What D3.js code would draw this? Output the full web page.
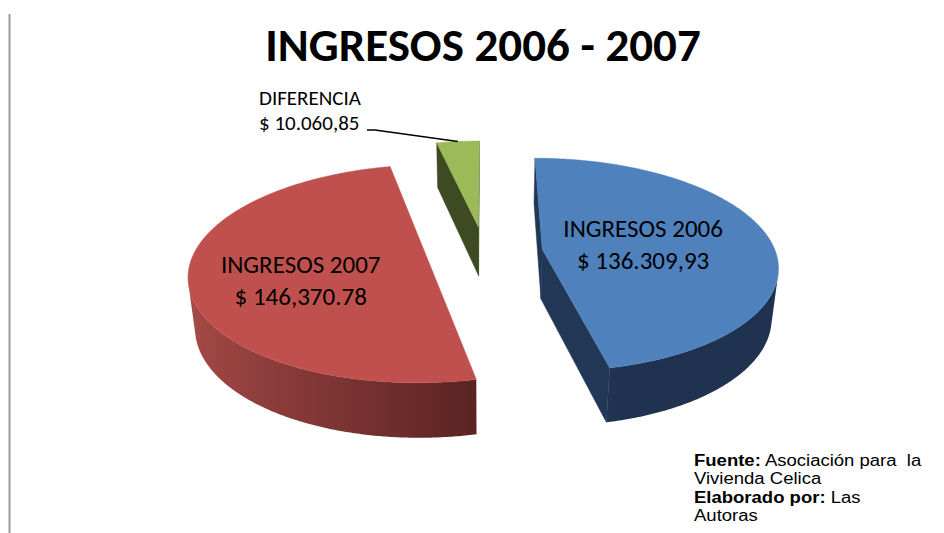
<!DOCTYPE html>
<html>
<head>
<meta charset="utf-8">
<script src="https://cdn.jsdelivr.net/npm/d3@7"></script>
<style>
  body { margin: 0; background: #fff; }
  svg { display: block; }
  text { white-space: pre; }
</style>
</head>
<body>
<script>
// chart data
var title = "INGRESOS 2006 - 2007";
var categories = ["INGRESOS 2006", "INGRESOS 2007", "DIFERENCIA"];
var values = [136309.93, 146370.78, 10060.85];
var valueLabels = ["$ 136.309,93", "$ 146,370.78", "$ 10.060,85"];
var sourceBold = ["Fuente:", "", "Elaborado por:", ""];
var sourceText = [" Asociación para  la", "Vivienda Celica", " Las", "Autoras"];

// slice colours: top face, side (light end), side (dark end), cut wall
var topColors = ["#4f81bd", "#c0504d", "#9bbb59"];
var sideLight = ["#3a5a86", "#a94c49", "#5d7330"];
var sideDark = ["#1f3350", "#582221", "#3d4b22"];
var wallColors = ["#213755", "#6e2c2a", "#3e4b22"];

var width = 944;
var height = 533;

// 3d view settings (pie radius = 1)
var PHI = 30 * Math.PI / 180;
var S = Math.sin(PHI), C = Math.cos(PHI);
var DIST = 6;
var FX = 1400, FY = 1261;
var CX = 484.5, CY = 252.2;
var THICK = 0.28;
var EXPLODE = 0.25;
var cam = [0, DIST * S, DIST * C];

function project(p) {
    var depth = DIST - p[1] * S - p[2] * C;
    var up = p[1] * C - p[2] * S;
    return [CX + FX * p[0] / depth, CY - FY * up / depth];
}

function faces(normalAngle, p) {
    // true when the surface looks towards the camera
    var n = [Math.sin(normalAngle), 0, -Math.cos(normalAngle)];
    return n[0] * (cam[0] - p[0]) + n[2] * (cam[2] - p[2]) > 0;
}

var svg = d3.select("body")
    .append("svg")
    .attr("width", width)
    .attr("height", height);
var defs = svg.append("defs");

// thin grey border line on the left
svg.append("line")
    .attr("x1", 9.5).attr("x2", 9.5)
    .attr("y1", 14).attr("y2", height)
    .attr("stroke", "#9a9a9a")
    .attr("stroke-width", 2);

svg.append("text")
    .attr("x", 483)
    .attr("y", 61)
    .attr("text-anchor", "middle")
    .style("font-family", "Carlito, Lato, sans-serif")
    .style("font-weight", "bold")
    .style("font-size", "47px")
    .text(title);

var pie = d3.pie().sort(null).startAngle(0).endAngle(2 * Math.PI);
var arcs = pie(values);

arcs.forEach(function(d, i) {
    var mid = (d.startAngle + d.endAngle) / 2;
    d.ox = EXPLODE * Math.sin(mid);
    d.oz = -EXPLODE * Math.cos(mid);
    d.mid = mid;
    d.i = i;
});

function pt(d, a, r, y) {
    return [d.ox + r * Math.sin(a), y, d.oz - r * Math.cos(a)];
}

var line = d3.line();

// far slices first
var order = arcs.slice().sort(function(a, b) { return a.oz - b.oz; });

order.forEach(function(d) {
    var g = svg.append("g").attr("class", "slice");
    var i = d.i;
    var shade = d3.scaleLinear()
        .domain([-1, 0.25])
        .range([sideLight[i], sideDark[i]])
        .clamp(true);

    // cut walls
    [[d.startAngle, d.startAngle - Math.PI / 2], [d.endAngle, d.endAngle + Math.PI / 2]].forEach(function(w) {
        var midPt = pt(d, w[0], 0.5, -THICK / 2);
        if (!faces(w[1], midPt)) return;
        var poly = [pt(d, 0, 0, 0), pt(d, w[0], 1, 0), pt(d, w[0], 1, -THICK), pt(d, 0, 0, -THICK)].map(project);
        g.append("path")
            .attr("d", line(poly) + "Z")
            .attr("fill", wallColors[i])
            .attr("stroke", wallColors[i])
            .attr("stroke-width", 0.5);
    });

    // outer rim: only the part that faces the camera, one shape with a gradient
    var steps = Math.max(2, Math.ceil((d.endAngle - d.startAngle) / (Math.PI / 360)));
    var da = (d.endAngle - d.startAngle) / steps;
    var seen = [];
    for (var k = 0; k <= steps; k++) {
        var a = d.startAngle + k * da;
        if (faces(a, pt(d, a, 1, -THICK / 2))) seen.push(a);
    }
    if (seen.length > 1) {
        var topEdge = seen.map(function(a) { return project(pt(d, a, 1, 0)); });
        var botEdge = seen.map(function(a) { return project(pt(d, a, 1, -THICK)); }).reverse();
        var xs = topEdge.map(function(p) { return p[0]; });
        var x0 = d3.min(xs), x1 = d3.max(xs);
        var gradId = "rim" + i;
        var stops = seen.map(function(a, k) {
            return { offset: (xs[k] - x0) / (x1 - x0), color: shade(Math.sin(a)) };
        }).sort(function(p, q) { return p.offset - q.offset; });
        defs.append("linearGradient")
            .attr("id", gradId)
            .attr("gradientUnits", "userSpaceOnUse")
            .attr("x1", x0).attr("x2", x1)
            .attr("y1", 0).attr("y2", 0)
            .selectAll("stop")
            .data(stops.filter(function(s, k) { return k % 4 == 0 || k == stops.length - 1; }))
            .enter()
            .append("stop")
            .attr("offset", function(s) { return s.offset; })
            .attr("stop-color", function(s) { return s.color; });
        g.append("path")
            .attr("d", line(topEdge.concat(botEdge)) + "Z")
            .attr("fill", "url(#" + gradId + ")");
    }

    // top face
    var top = [project(pt(d, 0, 0, 0))];
    for (var k2 = 0; k2 <= steps; k2++) {
        top.push(project(pt(d, d.startAngle + k2 * da, 1, 0)));
    }
    g.append("path")
        .attr("d", line(top) + "Z")
        .attr("fill", topColors[i])
        .attr("stroke", topColors[i])
        .attr("stroke-width", 0.5);
});

// labels inside the two big slices
var labelRadius = [0.45, 0.52];
var labelShift = [[-2, 0], [-4, 10]];
[0, 1].forEach(function(i) {
    var d = arcs[i];
    var p = project(pt(d, d.mid, labelRadius[i], 0));
    var x = p[0] + labelShift[i][0];
    var y = p[1] + labelShift[i][1];
    var t = svg.append("text")
        .attr("text-anchor", "middle")
        .style("font-family", "Carlito, Lato, sans-serif")
        .style("font-size", "25px")
        .attr("fill", "#000");
    t.append("tspan").attr("x", x).attr("y", y - 7).text(categories[i]);
    t.append("tspan").attr("x", x).attr("y", y + 25).text(valueLabels[i]);
});

// outside label for the small slice with a leader line
var g2 = arcs[2];
var lab = svg.append("text")
    .style("font-family", "Carlito, Lato, sans-serif")
    .style("font-size", "21px")
    .attr("fill", "#000");
lab.append("tspan").attr("x", 259).attr("y", 105).text(categories[2]);
lab.append("tspan").attr("x", 259).attr("y", 130).text(valueLabels[2]);

var tip = project(pt(g2, g2.mid, 1, 0));
svg.append("path")
    .attr("d", line([[367, 130], [375, 130], tip]))
    .attr("fill", "none")
    .attr("stroke", "#000")
    .attr("stroke-width", 1.5);

// source note: set tight like the reference, glyphs widened to the original width
sourceText.forEach(function(s, i) {
    var t = svg.append("text")
        .attr("x", 694)
        .attr("y", 466 + i * 18.4)
        .style("font-family", "'Liberation Sans', Arial, sans-serif")
        .style("font-size", "18.5px")
        .attr("fill", "#000");
    if (sourceBold[i]) {
        t.append("tspan").style("font-weight", "bold").text(sourceBold[i]);
    }
    t.append("tspan").text(s);
    var w = t.node().getComputedTextLength();
    t.style("font-size", "16px")
        .attr("textLength", w)
        .attr("lengthAdjust", "spacingAndGlyphs");
});
</script>
</body>
</html>
